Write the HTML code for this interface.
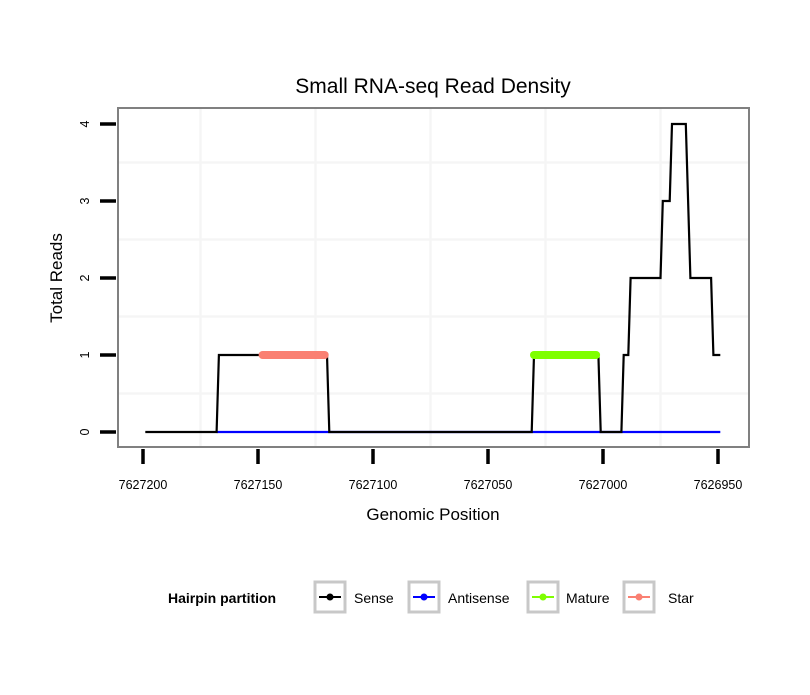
<!DOCTYPE html>
<html><head><meta charset="utf-8"><style>
body{margin:0;background:#fff}
text{font-family:"Liberation Sans",sans-serif}
</style></head><body>
<svg id="chart" width="810" height="690" xmlns="http://www.w3.org/2000/svg">
<rect width="810" height="690" fill="#fff"/>
<g id="grid"></g>
<g id="marks"></g>
<rect x="118" y="108" width="631" height="339" fill="none" stroke="#808080" stroke-width="2"/>
<g id="axes"></g>
<text x="433" y="93" font-size="21" text-anchor="middle">Small RNA-seq Read Density</text>
<text x="433" y="520" font-size="17" text-anchor="middle">Genomic Position</text>
<text transform="translate(62,278) rotate(-90)" font-size="17" text-anchor="middle">Total Reads</text>
<g id="legend">
<text x="168" y="603" font-size="14" font-weight="bold">Hairpin partition</text>
</g>
</svg>
<script>
const xTicks=[7627200,7627150,7627100,7627050,7627000,7626950];
const yTicks=[0,1,2,3,4];
const sensePos=[7627199,7627168,7627167,7627120,7627119,7627031,7627030,7627002,7627001,7626992,7626991,7626989,7626988,7626975,7626974,7626971,7626970,7626964,7626963,7626962,7626953,7626952,7626949];
const senseReads=[0,0,1,1,0,0,1,1,0,0,1,1,2,2,3,3,4,4,3,2,2,1,1];
const antisensePos=[7627168,7626949];
const antisenseReads=[0,0];
const maturePos=[7627030,7627003];
const matureReads=[1,1];
const starPos=[7627148,7627121];
const starReads=[1,1];
const legendLabels=["Sense","Antisense","Mature","Star"];
const legendColors=["#000000","#0000ff","#7fff00","#fa8072"];

const NS="http://www.w3.org/2000/svg";
function xs(g){return 143+(7627200-g)*2.3;}
function ys(v){return 432-v*77;}
function mk(tag,attrs,parent){const e=document.createElementNS(NS,tag);for(const k in attrs)e.setAttribute(k,attrs[k]);parent.appendChild(e);return e;}
const grid=document.getElementById('grid'),marks=document.getElementById('marks'),axes=document.getElementById('axes'),legend=document.getElementById('legend');
for(let i=0;i<xTicks.length-1;i++){const x=xs((xTicks[i]+xTicks[i+1])/2);
 const l=mk('line',{x1:x,x2:x,y1:108,y2:447,stroke:'#f5f5f5','stroke-width':2.5},grid);
 
 }
for(let i=0;i<yTicks.length-1;i++){const y=ys(yTicks[i]+0.5);
 const l=mk('line',{x1:118,x2:749,y1:y,y2:y,stroke:'#f5f5f5','stroke-width':2.5},grid);
 
 }
function line(pos,vals,color,w,name){
 const p=mk('polyline',{points:pos.map((g,i)=>xs(g)+','+ys(vals[i])).join(' '),fill:'none',stroke:color,'stroke-width':w,'stroke-linecap':w>4?'round':'butt','stroke-linejoin':'miter'},marks);
 
 }
line(antisensePos,antisenseReads,'#0000ff',2.2,'antisense-line');
line(sensePos,senseReads,'#000',2.2,'sense-line');
line(maturePos,matureReads,'#7fff00',8,'mature-segment');
line(starPos,starReads,'#fa8072',8,'star-segment');
xTicks.forEach(t=>{const x=xs(t);
 const l=mk('line',{x1:x,x2:x,y1:449,y2:464,stroke:'#000','stroke-width':3.5},axes);
 
 
 const tx=mk('text',{x:x,y:489,'font-size':12.5,'text-anchor':'middle'},axes);tx.textContent=t;
 
 });
yTicks.forEach(t=>{const y=ys(t);
 const l=mk('line',{x1:100,x2:116,y1:y,y2:y,stroke:'#000','stroke-width':3.5},axes);
 
 
 const tx=mk('text',{transform:'translate(89,'+y+') rotate(-90)','font-size':12.5,'text-anchor':'middle'},axes);tx.textContent=t;
 
 });
const keyX=[314,408,527,623],labX=[354,448,566,668];
legendLabels.forEach((lab,i)=>{
 const g=mk('g',{},legend);
 
 
 mk('rect',{x:keyX[i]+1,y:582,width:30,height:30,fill:'#fff',stroke:'#c8c8c8','stroke-width':3},g);
 mk('line',{x1:keyX[i]+5,x2:keyX[i]+27,y1:597,y2:597,stroke:legendColors[i],'stroke-width':2},g);
 mk('circle',{cx:keyX[i]+16,cy:597,r:3.5,fill:legendColors[i]},g);
 const t=mk('text',{x:labX[i],y:603,'font-size':14},g);t.textContent=lab;});
</script>
</body></html>
